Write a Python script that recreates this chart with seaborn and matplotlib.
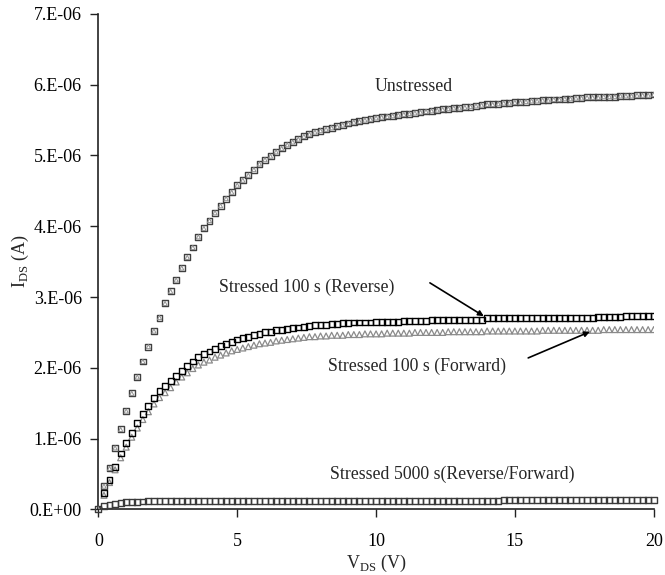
import numpy as np
import pandas as pd
import matplotlib
matplotlib.use("Agg")
import matplotlib.pyplot as plt
import seaborn as sns

# ---------------- data (I_DS in units of 1e-6 A) ----------------
vds = [round(0.2 * i, 1) for i in range(101)]

unstressed = [
    0.00, 0.33, 0.58, 0.87, 1.13, 1.39, 1.64, 1.87, 2.09, 2.30,
    2.52, 2.71, 2.91, 3.08, 3.24, 3.41, 3.56, 3.70, 3.85, 3.97,
    4.08, 4.19, 4.29, 4.39, 4.48, 4.58, 4.65, 4.72, 4.80, 4.88,
    4.94, 4.99, 5.05, 5.10, 5.15, 5.19, 5.23, 5.27, 5.30, 5.33,
    5.35, 5.37, 5.39, 5.41, 5.43, 5.45, 5.47, 5.48, 5.50, 5.51,
    5.53, 5.54, 5.55, 5.56, 5.57, 5.58, 5.59, 5.60, 5.61, 5.62,
    5.63, 5.64, 5.65, 5.66, 5.67, 5.67, 5.68, 5.69, 5.70, 5.71,
    5.72, 5.72, 5.73, 5.74, 5.74, 5.75, 5.75, 5.76, 5.77, 5.77,
    5.78, 5.78, 5.79, 5.79, 5.80, 5.80, 5.81, 5.81, 5.82, 5.82,
    5.82, 5.83, 5.83, 5.83, 5.84, 5.84, 5.84, 5.85, 5.85, 5.85,
    5.86,
]

stressed100_reverse = [
    0.00, 0.23, 0.42, 0.60, 0.79, 0.94, 1.08, 1.22, 1.35, 1.46,
    1.58, 1.67, 1.74, 1.81, 1.89, 1.96, 2.03, 2.09, 2.15, 2.20,
    2.23, 2.27, 2.31, 2.34, 2.37, 2.40, 2.42, 2.44, 2.46, 2.48,
    2.50, 2.51, 2.53, 2.54, 2.55, 2.56, 2.57, 2.58, 2.59, 2.60,
    2.61, 2.61, 2.62, 2.62, 2.63, 2.63, 2.64, 2.64, 2.64, 2.64,
    2.65, 2.65, 2.65, 2.65, 2.65, 2.66, 2.66, 2.66, 2.66, 2.66,
    2.67, 2.67, 2.67, 2.67, 2.67, 2.68, 2.68, 2.68, 2.68, 2.68,
    2.70, 2.70, 2.70, 2.70, 2.70, 2.70, 2.70, 2.70, 2.70, 2.70,
    2.71, 2.71, 2.71, 2.71, 2.71, 2.71, 2.71, 2.71, 2.71, 2.71,
    2.72, 2.72, 2.72, 2.72, 2.72, 2.73, 2.73, 2.73, 2.73, 2.73,
    2.73,
]

stressed100_forward = [
    0.00, 0.20, 0.38, 0.56, 0.73, 0.88, 1.02, 1.15, 1.27, 1.38,
    1.49, 1.58, 1.65, 1.72, 1.80, 1.87, 1.93, 1.99, 2.04, 2.08,
    2.11, 2.15, 2.18, 2.21, 2.24, 2.26, 2.28, 2.30, 2.32, 2.34,
    2.35, 2.36, 2.38, 2.39, 2.40, 2.41, 2.42, 2.43, 2.44, 2.44,
    2.45, 2.45, 2.46, 2.46, 2.46, 2.47, 2.47, 2.47, 2.48, 2.48,
    2.48, 2.48, 2.49, 2.49, 2.49, 2.49, 2.49, 2.50, 2.50, 2.50,
    2.50, 2.50, 2.50, 2.51, 2.51, 2.51, 2.51, 2.51, 2.51, 2.51,
    2.52, 2.52, 2.52, 2.52, 2.52, 2.52, 2.52, 2.52, 2.52, 2.52,
    2.53, 2.53, 2.53, 2.53, 2.53, 2.53, 2.53, 2.53, 2.53, 2.53,
    2.53, 2.54, 2.54, 2.54, 2.54, 2.54, 2.54, 2.54, 2.54, 2.54,
    2.54,
]

stressed5000 = [
    0.01, 0.05, 0.065, 0.08, 0.09, 0.10, 0.105, 0.11, 0.112, 0.114,
    0.115, 0.115, 0.115, 0.115, 0.115, 0.115, 0.115, 0.115, 0.115, 0.115,
    0.115, 0.115, 0.115, 0.115, 0.115, 0.115, 0.115, 0.115, 0.115, 0.115,
    0.115, 0.115, 0.115, 0.115, 0.125, 0.125, 0.125, 0.125, 0.125, 0.125,
    0.125, 0.125, 0.125, 0.125, 0.125, 0.125, 0.125, 0.125, 0.125, 0.125,
    0.125, 0.125, 0.125, 0.125, 0.125, 0.125, 0.125, 0.125, 0.125, 0.125,
    0.125, 0.125, 0.125, 0.125, 0.125, 0.125, 0.125, 0.125, 0.125, 0.125,
    0.125, 0.125, 0.125, 0.135, 0.135, 0.135, 0.135, 0.135, 0.135, 0.135,
    0.135, 0.135, 0.135, 0.135, 0.135, 0.135, 0.135, 0.135, 0.135, 0.135,
    0.135, 0.135, 0.135, 0.135, 0.135, 0.135, 0.135, 0.135, 0.135, 0.135,
    0.135,
]

y_ticks = [0, 1e-6, 2e-6, 3e-6, 4e-6, 5e-6, 6e-6, 7e-6]
y_tick_labels = ["0.E+00", "1.E-06", "2.E-06", "3.E-06", "4.E-06", "5.E-06", "6.E-06", "7.E-06"]
x_ticks = [0, 5, 10, 15, 20]
x_tick_labels = ["0", "5", "10", "15", "20"]

label_unstressed = "Unstressed"
label_rev = "Stressed 100 s (Reverse)"
label_fwd = "Stressed 100 s (Forward)"
label_5000 = "Stressed 5000 s(Reverse/Forward)"

# ---------------- frame ----------------
df = pd.DataFrame({
    "V": vds,
    "unstressed": np.array(unstressed) * 1e-6,
    "rev": np.array(stressed100_reverse) * 1e-6,
    "fwd": np.array(stressed100_forward) * 1e-6,
    "s5000": np.array(stressed5000) * 1e-6,
})

sns.set_theme(style="ticks")
plt.rcParams["font.family"] = ["Liberation Serif", "DejaVu Serif"]

fig = plt.figure(figsize=(6.65, 5.75), dpi=100)
ax = fig.add_axes([0.148, 0.114, 0.835, 0.862])

msize = 18
common = dict(ax=ax, s=msize, legend=False, zorder=3)

# Stressed 5000 s (reverse & forward overlap)
sns.scatterplot(data=df, x="V", y="s5000", marker="s", facecolor="none",
                edgecolor="#3a3a3a", linewidth=1.0, clip_on=False, **common)
# Stressed 100 s forward (triangles)
sns.scatterplot(data=df, x="V", y="fwd", marker="^", facecolor="none",
                edgecolor="#8a8a8a", linewidth=0.9, **common)
# Stressed 100 s reverse (squares)
sns.scatterplot(data=df, x="V", y="rev", marker="s", facecolor="none",
                edgecolor="#000000", linewidth=1.0, **common)
# Unstressed (squares + triangles overlapping)
sns.scatterplot(data=df, x="V", y="unstressed", marker="s", facecolor="none",
                edgecolor="#404040", linewidth=1.0, **common)
sns.scatterplot(data=df, x="V", y="unstressed", marker="^", facecolor="none",
                edgecolor="#909090", linewidth=0.7, s=9, ax=ax, legend=False, zorder=4)

ax.set_xlim(0, 20)
ax.set_ylim(0, 7e-6)
ax.set_xticks(x_ticks)
ax.set_xticklabels(x_tick_labels)
ax.set_yticks(y_ticks)
ax.set_yticklabels(y_tick_labels)

sns.despine(ax=ax)
for sp in ["left", "bottom"]:
    ax.spines[sp].set_color("#222222")
    ax.spines[sp].set_linewidth(1.2)
ax.tick_params(axis="both", direction="out", length=6, width=1.0, color="#222222",
               labelsize=13, labelcolor="black")
ax.tick_params(axis="x", pad=11)
ax.tick_params(axis="y", pad=6)
ax.grid(False)

ax.set_xlabel(r"V$_{\mathregular{DS}}$ (V)", fontsize=13, labelpad=2)
ax.set_ylabel(r"I$_{\mathregular{DS}}$ (A)", fontsize=13, labelpad=-1)

tfs = 12.8
ax.text(11.35, 5.97e-6, label_unstressed, ha="center", va="center", fontsize=tfs)
ax.text(7.50, 3.13e-6, label_rev, ha="center", va="center", fontsize=tfs)
ax.text(11.49, 2.02e-6, label_fwd, ha="center", va="center", fontsize=tfs)
ax.text(12.73, 0.49e-6, label_5000, ha="center", va="center", fontsize=tfs)

arrow = dict(arrowstyle="-|>", color="black", lw=1.2, mutation_scale=8, shrinkA=0, shrinkB=0)
ax.annotate("", xy=(13.88, 2.73e-6), xytext=(11.94, 3.20e-6), arrowprops=arrow, zorder=5)
ax.annotate("", xy=(17.70, 2.51e-6), xytext=(15.48, 2.14e-6), arrowprops=arrow, zorder=5)

fig.savefig("out.png", dpi=100, facecolor="white")
